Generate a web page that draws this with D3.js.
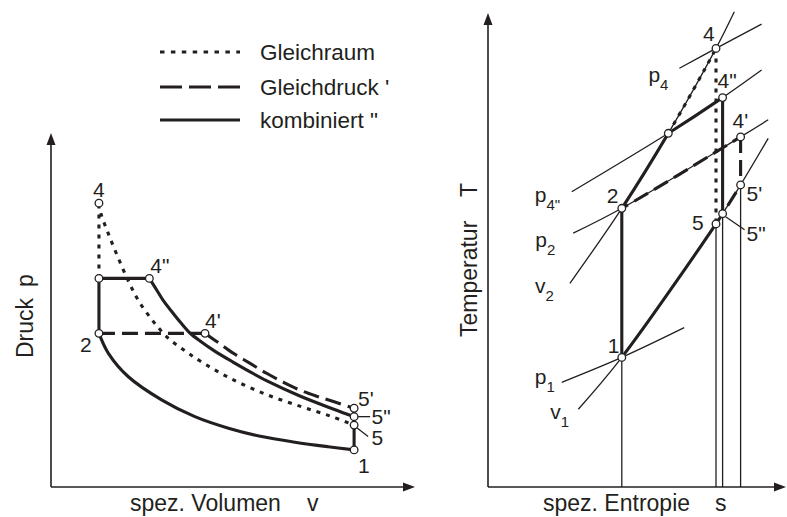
<!DOCTYPE html>
<html>
<head>
<meta charset="utf-8">
<script src="https://cdn.jsdelivr.net/npm/d3@7"></script>
<style>
  html, body { margin: 0; padding: 0; background: #fff; }
  svg { display: block; font-family: "Liberation Sans", Arial, Helvetica, sans-serif; }
</style>
</head>
<body>
<svg id="chart" width="787" height="517"></svg>
<script>
// ---------- p-v diagram (spez. Volumen v / Druck p), arbitrary units ----------
const pvStates = [
  { id: "1",  v: 8.66, p: 1.06 },
  { id: "2",  v: 1.37, p: 4.39 },
  { id: "3",  v: 1.37, p: 5.96 },
  { id: "4",  v: 1.37, p: 8.11 },
  { id: "4\"", v: 2.81, p: 5.96 },
  { id: "4'", v: 4.40, p: 4.39 },
  { id: "5",  v: 8.66, p: 1.77 },
  { id: "5\"", v: 8.66, p: 2.01 },
  { id: "5'", v: 8.66, p: 2.25 }
];
// adiabatic compression 2 -> 1
const pvCompression = [
  [1.37, 4.39], [1.64, 3.82], [2.21, 3.15], [3.16, 2.49], [4.11, 2.01],
  [5.07, 1.68], [6.02, 1.44], [6.97, 1.28], [7.92, 1.15], [8.66, 1.06]
];
// expansion 4 -> 5 (Gleichraum)
const pvExpansionOtto = [
  [1.37, 8.11], [1.43, 7.80], [1.63, 7.26], [1.91, 6.57], [2.20, 5.91],
  [2.49, 5.34], [2.89, 4.77], [3.34, 4.26], [3.83, 3.89], [4.26, 3.60],
  [5.11, 3.11], [6.11, 2.66], [7.11, 2.31], [7.97, 2.03], [8.66, 1.77]
];
// expansion 4" -> 5" (kombiniert)
const pvExpansionMixed = [
  [2.81, 5.96], [3.00, 5.66], [3.20, 5.34], [3.46, 5.00], [3.71, 4.69],
  [3.97, 4.40], [4.26, 4.17], [4.71, 3.86], [5.20, 3.57], [5.69, 3.29],
  [6.17, 3.03], [7.11, 2.60], [8.06, 2.23], [8.66, 2.01]
];
// expansion 4' -> 5' (Gleichdruck)
const pvExpansionDiesel = [
  [4.40, 4.39], [4.80, 4.11], [5.21, 3.82], [5.69, 3.53], [6.16, 3.25],
  [6.63, 3.00], [7.11, 2.77], [7.60, 2.59], [8.07, 2.44], [8.66, 2.25]
];

// ---------- T-s diagram (spez. Entropie s / Temperatur T), arbitrary units ----------
const tsStates = [
  { id: "1",  s: 4.46, T: 4.32 },
  { id: "2",  s: 4.46, T: 9.29 },
  { id: "3",  s: 6.01, T: 11.79 },
  { id: "4",  s: 7.60, T: 14.62 },
  { id: "4\"", s: 7.82, T: 12.98 },
  { id: "4'", s: 8.42, T: 11.67 },
  { id: "5",  s: 7.60, T: 8.77 },
  { id: "5\"", s: 7.82, T: 9.11 },
  { id: "5'", s: 8.42, T: 10.07 }
];
// isobars and isochores
const isobarP1  = [[2.46, 3.49], [4.46, 4.32], [6.54, 5.31]];
const isobarP2  = [[2.84, 8.46], [4.46, 9.29], [8.42, 11.67], [9.34, 12.24]];
const isobarP4m = [[2.79, 9.84], [6.01, 11.79], [7.82, 12.98], [9.12, 13.90]];
const isobarP4  = [[6.38, 13.96], [7.60, 14.62], [9.12, 15.43]];
const isochoreV2 = [[2.73, 6.79], [4.46, 9.29], [6.01, 11.79], [7.60, 14.62], [8.21, 15.84]];
const isochoreV1 = [[3.01, 2.59], [4.46, 4.32], [7.60, 8.77], [7.82, 9.11], [8.42, 10.07], [9.34, 11.62]];

const legendItems = ["Gleichraum", "Gleichdruck '", "kombiniert \""];

// ---------- layout ----------
const INK = "#231f20";
const THICK = 3.1, THIN = 1.3, AXIS = 1.6;
const DOT = "4,6", DASH = "16,7";

const pvX = d3.scaleLinear().domain([0, 10]).range([51, 401]);
const pvY = d3.scaleLinear().domain([0, 10]).range([487, 137]);
const tsX = d3.scaleLinear().domain([0, 10]).range([488, 788]);
const tsY = d3.scaleLinear().domain([0, 16]).range([487, 7]);

const svg = d3.select("#chart");
const defs = svg.append("defs");
const gThin = svg.append("g");
const gThick = svg.append("g");
const gDots = svg.append("g");
const gText = svg.append("g").attr("fill", INK);

let clipCount = 0;

function lineGen(xs, ys) {
  return d3.line().x(d => xs(d[0])).y(d => ys(d[1])).curve(d3.curveCatmullRom);
}

function stroke(sel, w, dash) {
  return sel.attr("fill", "none").attr("stroke", INK).attr("stroke-width", w)
    .attr("stroke-dasharray", dash || null).attr("stroke-linecap", "butt");
}

function curve(g, pts, xs, ys, w, dash) {
  stroke(g.append("path").attr("d", lineGen(xs, ys)(pts)), w, dash);
}

// part of a curve between two abscissae (curves are monotone in x)
function curvePart(g, pts, xs, ys, a, b, w, dash) {
  const id = "seg" + (clipCount++);
  defs.append("clipPath").attr("id", id).append("rect")
    .attr("x", xs(a)).attr("y", 0).attr("width", xs(b) - xs(a)).attr("height", 517);
  stroke(g.append("path").attr("d", lineGen(xs, ys)(pts)).attr("clip-path", `url(#${id})`), w, dash);
}

function segment(g, a, b, w, dash) {
  stroke(g.append("line").attr("x1", a[0]).attr("y1", a[1]).attr("x2", b[0]).attr("y2", b[1]), w, dash);
}

function arrow(tip, dir) {
  const L = 12, W = 4.5;
  let pts;
  if (dir === "up") pts = [[tip[0], tip[1]], [tip[0] - W, tip[1] + L], [tip[0] + W, tip[1] + L]];
  else pts = [[tip[0], tip[1]], [tip[0] - L, tip[1] - W], [tip[0] - L, tip[1] + W]];
  svg.append("path").attr("d", "M" + pts.map(p => p.join(",")).join("L") + "Z").attr("fill", INK);
}

// ---------- axes ----------
const pvO = [pvX(0), pvY(0)];
segment(svg, pvO, [pvO[0], 144], AXIS); arrow([pvO[0], 133], "up");
segment(svg, pvO, [404, pvO[1]], AXIS); arrow([415, pvO[1]], "right");
const tsO = [tsX(0), tsY(0)];
segment(svg, tsO, [tsO[0], 24], AXIS); arrow([tsO[0], 13], "up");
segment(svg, tsO, [775, tsO[1]], AXIS); arrow([786, tsO[1]], "right");

// ---------- p-v marks ----------
const pv = id => pvStates.find(d => d.id === id);
const pvP = id => [pvX(pv(id).v), pvY(pv(id).p)];

curve(gThick, pvCompression, pvX, pvY, THICK);
curve(gThick, pvExpansionOtto, pvX, pvY, THICK, DOT);
curve(gThick, pvExpansionMixed, pvX, pvY, THICK);
curve(gThick, pvExpansionDiesel, pvX, pvY, THICK, DASH);
segment(gThick, pvP("2"), pvP("3"), THICK);
segment(gThick, pvP("3"), pvP("4"), THICK, DOT);
segment(gThick, pvP("3"), pvP("4\""), THICK);
segment(gThick, pvP("2"), pvP("4'"), THICK, DASH);
segment(gThick, pvP("5\""), pvP("1"), THICK);
segment(gThick, pvP("5'"), pvP("5\""), THICK);

gDots.selectAll("circle.pv").data(pvStates).join("circle").attr("class", "pv")
  .attr("cx", d => pvX(d.v)).attr("cy", d => pvY(d.p)).attr("r", 3.8)
  .attr("fill", "#fff").attr("stroke", INK).attr("stroke-width", 1.3);

// ---------- T-s marks ----------
const ts = id => tsStates.find(d => d.id === id);
const tsP = id => [tsX(ts(id).s), tsY(ts(id).T)];

[isobarP1, isobarP2, isobarP4m, isobarP4, isochoreV2, isochoreV1]
  .forEach(pts => curve(gThin, pts, tsX, tsY, THIN));
["1", "5", "5\"", "5'"].forEach(id => segment(gThin, tsP(id), [tsP(id)[0], tsY(0)], THIN));

segment(gThick, tsP("1"), tsP("2"), THICK);
curvePart(gThick, isochoreV2, tsX, tsY, ts("2").s, ts("3").s, THICK);
curvePart(gThick, isochoreV2, tsX, tsY, ts("3").s, ts("4").s, THICK, DOT);
curvePart(gThick, isobarP4m, tsX, tsY, ts("3").s, ts("4\"").s, THICK);
curvePart(gThick, isobarP2, tsX, tsY, ts("2").s, ts("4'").s, THICK, DASH);
segment(gThick, tsP("4"), tsP("5"), THICK, DOT);
segment(gThick, tsP("4\""), tsP("5\""), THICK);
segment(gThick, tsP("4'"), tsP("5'"), THICK, DASH);
curvePart(gThick, isochoreV1, tsX, tsY, ts("1").s, ts("5\"").s, THICK);
curvePart(gThick, isochoreV1, tsX, tsY, ts("5\"").s, ts("5'").s, THICK, DASH);

gDots.selectAll("circle.ts").data(tsStates).join("circle").attr("class", "ts")
  .attr("cx", d => tsX(d.s)).attr("cy", d => tsY(d.T)).attr("r", 3.8)
  .attr("fill", "#fff").attr("stroke", INK).attr("stroke-width", 1.3);

// ---------- state labels ----------
const LABEL = 21;
const pvLabelOffset = {
  "4": [-6, -6], "4\"": [1, -5], "4'": [0, -5], "2": [-19, 19],
  "5'": [4, -2], "5\"": [17.5, 7.5], "5": [17.5, 20], "1": [4, 23]
};
const tsLabelOffset = {
  "4": [-13, -7], "4\"": [-5, -9.5], "4'": [-8, -8.5], "2": [-15, -5],
  "1": [-14, -4], "5'": [6, 16], "5": [-24, 6], "5\"": [24, 27.5]
};
pvStates.filter(d => pvLabelOffset[d.id]).forEach(d => {
  const o = pvLabelOffset[d.id];
  gText.append("text").attr("x", pvX(d.v) + o[0]).attr("y", pvY(d.p) + o[1])
    .attr("font-size", LABEL).text(d.id);
});
tsStates.filter(d => tsLabelOffset[d.id]).forEach(d => {
  const o = tsLabelOffset[d.id];
  gText.append("text").attr("x", tsX(d.s) + o[0]).attr("y", tsY(d.T) + o[1])
    .attr("font-size", LABEL).text(d.id);
});
// leader lines for the crowded 5-points
segment(svg, [pvP("5\"")[0] + 4, pvP("5\"")[1]], [pvP("5\"")[0] + 16, pvP("5\"")[1]], THIN);
segment(svg, [pvP("5")[0] + 3, pvP("5")[1] + 3], [pvP("5")[0] + 14, pvP("5")[1] + 11.5], THIN);
segment(svg, [tsP("5\"")[0] + 3, tsP("5\"")[1] + 3], [tsP("5\"")[0] + 22, tsP("5\"")[1] + 16], THIN);

// ---------- isobar / isochore labels ----------
const lineLabels = [
  { base: "p", sub: "4",  pts: isobarP4,  off: [-31, 14] },
  { base: "p", sub: "4\"", pts: isobarP4m, off: [-37, 10] },
  { base: "p", sub: "2",  pts: isobarP2,  off: [-38, 14] },
  { base: "v", sub: "2",  pts: isochoreV2, off: [-35, 10] },
  { base: "p", sub: "1",  pts: isobarP1,  off: [-27, 2] },
  { base: "v", sub: "1",  pts: isochoreV1, off: [-28, 10] }
];
lineLabels.forEach(l => {
  const t = gText.append("text")
    .attr("x", tsX(l.pts[0][0]) + l.off[0]).attr("y", tsY(l.pts[0][1]) + l.off[1])
    .attr("font-size", LABEL);
  t.append("tspan").text(l.base);
  t.append("tspan").attr("font-size", 15).attr("dy", 8).text(l.sub);
});

// ---------- axis titles ----------
const TITLE = 23;
function rotText(x, y, s) {
  gText.append("text").attr("transform", `translate(${x},${y}) rotate(-90)`)
    .attr("font-size", TITLE).text(s);
}
rotText(33, 358, "Druck");
rotText(33, 287, "p");
rotText(477, 337, "Temperatur");
rotText(477, 197, "T");
const BOTTOM = 511;
gText.append("text").attr("x", 130).attr("y", BOTTOM).attr("font-size", TITLE).text("spez. Volumen");
gText.append("text").attr("x", 307).attr("y", BOTTOM).attr("font-size", TITLE).text("v");
gText.append("text").attr("x", 543).attr("y", BOTTOM).attr("font-size", TITLE).text("spez. Entropie");
gText.append("text").attr("x", 715).attr("y", BOTTOM).attr("font-size", TITLE).text("s");

// ---------- legend ----------
const legendStyles = [
  { dash: "4.5,6.4", y: 52 },
  { dash: "22,7", y: 87 },
  { dash: null, y: 120 }
];
legendItems.forEach((name, i) => {
  const st = legendStyles[i];
  segment(svg, [160, st.y], [240, st.y], THICK, st.dash);
  gText.append("text").attr("x", 260).attr("y", st.y + 8).attr("font-size", 22.5).text(name);
});
</script>
</body>
</html>
